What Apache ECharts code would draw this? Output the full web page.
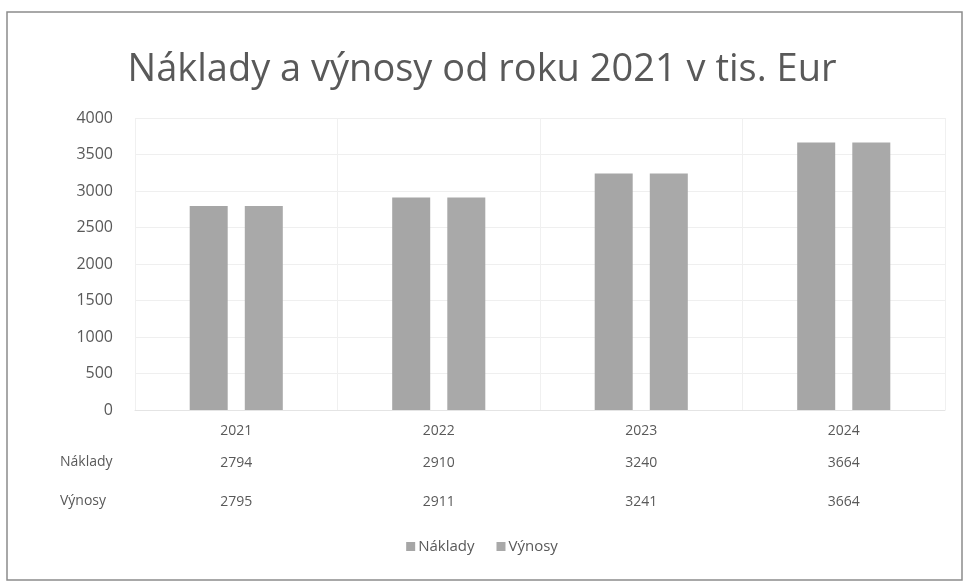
<!DOCTYPE html>
<html>
<head>
<meta charset="utf-8">
<title>Náklady a výnosy</title>
<script src="https://cdn.jsdelivr.net/npm/echarts@6/dist/echarts.min.js"></script>
<style>
  html, body { margin: 0; padding: 0; background: #fff; }
  #chart { width: 964px; height: 585px; }
</style>
</head>
<body>
<div id="chart"></div>
<script>
// data
var roky = ['2021', '2022', '2023', '2024'];
var naklady = [2794, 2910, 3240, 3664];
var vynosy = [2795, 2911, 3241, 3664];
var nazvy = ['Náklady', 'Výnosy'];

var font = 'Open Sans';
var seda = '#595959';

var myChart = echarts.init(document.getElementById('chart'));

// one hidden-line category axis per table row
function riadok(data, offset) {
    return {
        type: 'category',
        position: 'bottom',
        offset: offset,
        data: data.map(String),
        axisLine: { show: false },
        axisTick: { show: false },
        splitLine: { show: false },
        axisLabel: { color: seda, fontFamily: font, fontSize: 14, margin: 14 }
    };
}

var option = {
    backgroundColor: '#fff',
    animation: false,
    title: {
        text: 'Náklady a výnosy od roku 2021 v tis. Eur',
        left: 'center',
        top: 46,
        textStyle: { color: seda, fontFamily: font, fontSize: 38, fontWeight: 'normal' }
    },
    legend: {
        data: nazvy,
        bottom: 26,
        left: 'center',
        itemWidth: 9,
        itemHeight: 9,
        itemGap: 22,
        icon: 'rect',
        textStyle: { color: seda, fontFamily: font, fontSize: 15, padding: [0, 0, 0, -2] }
    },
    grid: { left: 135, right: 19, top: 118, bottom: 175 },
    xAxis: [
        {
            type: 'category',
            data: roky,
            axisLine: { lineStyle: { color: '#e4e4e4' } },
            axisTick: { show: false },
            splitLine: { show: true, lineStyle: { color: '#f0f0f0' } },
            axisLabel: { color: seda, fontFamily: font, fontSize: 14, margin: 14 }
        },
        riadok(naklady, 32),
        riadok(vynosy, 71)
    ],
    yAxis: {
        type: 'value',
        min: 0,
        max: 4000,
        interval: 500,
        axisLine: { show: false },
        axisTick: { show: false },
        splitLine: { lineStyle: { color: '#efefef' } },
        axisLabel: {
            color: seda, fontFamily: font, fontSize: 16, margin: 22,
            formatter: function (v) { return String(v); }
        }
    },
    series: [
        {
            name: nazvy[0],
            type: 'bar',
            data: naklady,
            barWidth: 38,
            barGap: '45%',
            itemStyle: { color: '#a6a6a6' }
        },
        {
            name: nazvy[1],
            type: 'bar',
            data: vynosy,
            barWidth: 38,
            itemStyle: { color: '#a9a9a9' }
        }
    ],
    graphic: [
        {
            type: 'rect',
            shape: { x: 7, y: 12, width: 955, height: 568 },
            style: { fill: 'none', stroke: '#8c8c8c', lineWidth: 1.5 }
        },
        {
            type: 'text', left: 60, top: 455,
            style: { text: nazvy[0], fill: seda, font: '14px "Open Sans"' }
        },
        {
            type: 'text', left: 60, top: 494,
            style: { text: nazvy[1], fill: seda, font: '14px "Open Sans"' }
        }
    ]
};

myChart.setOption(option);
</script>
</body>
</html>
